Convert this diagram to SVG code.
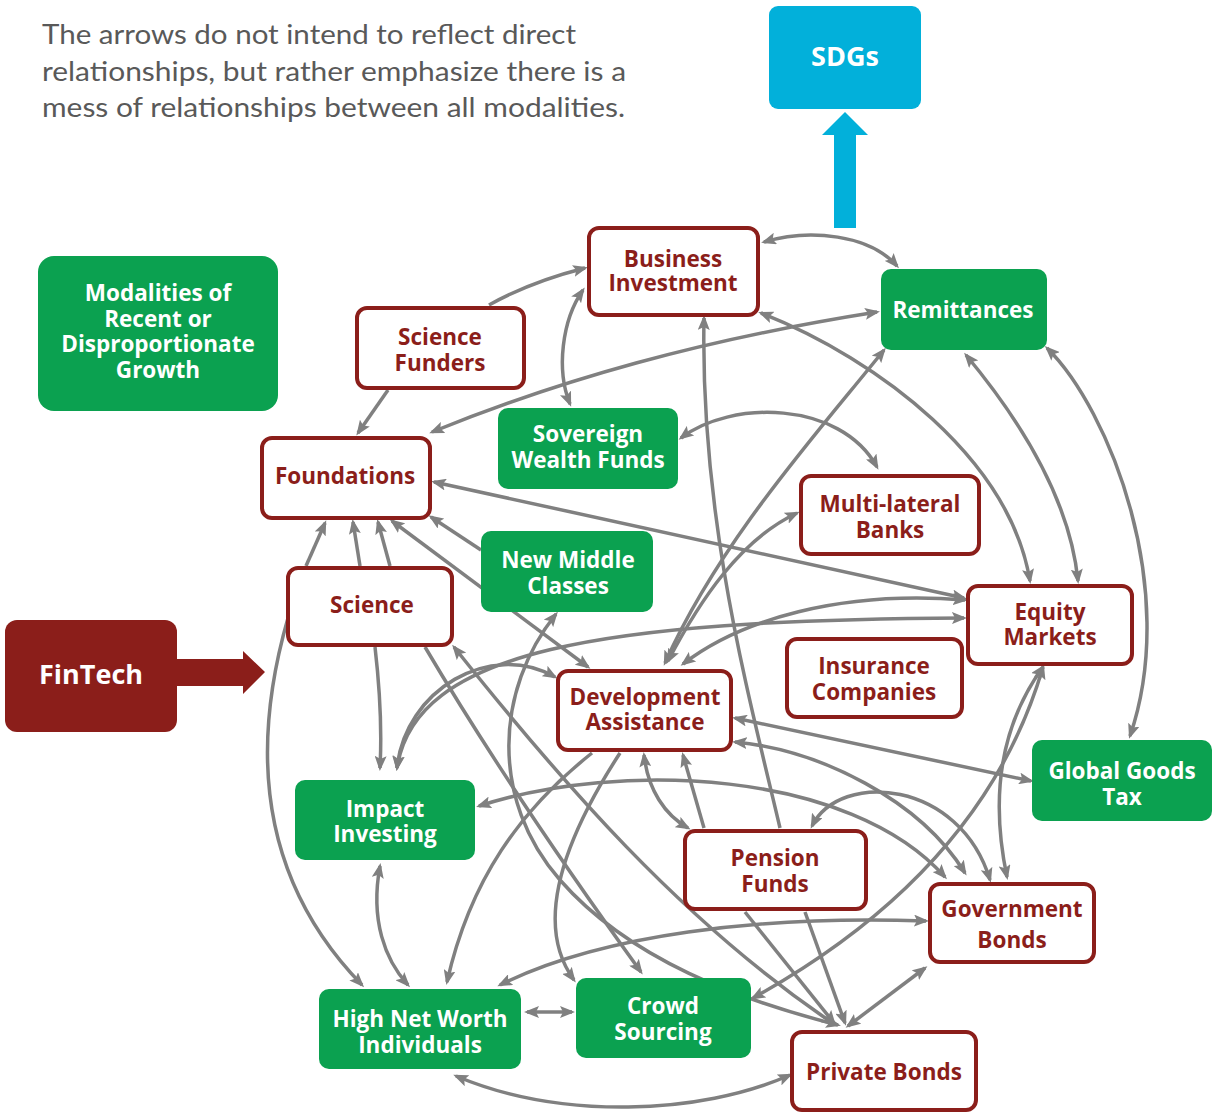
<svg xmlns="http://www.w3.org/2000/svg" width="1212" height="1117" viewBox="0 0 1212 1117">
<style>
.t{font-family:Lato,"Liberation Sans",sans-serif;font-size:26px;fill:#595959}
.rb{fill:#ffffff;stroke:#8B1E1A;stroke-width:4}
.gb{fill:#0BA150}
.rt{font-family:"Open Sans","Liberation Sans",sans-serif;font-weight:700;font-size:22.5px;fill:#8B1E1A;text-anchor:middle}
.gt{font-family:"Open Sans","Liberation Sans",sans-serif;font-weight:700;font-size:22.5px;fill:#ffffff;text-anchor:middle}
.c path{fill:none;stroke:#808080;stroke-width:3.5}
.e{marker-end:url(#ah)}
.b{marker-start:url(#ah);marker-end:url(#ah)}
</style>
<defs>
<marker id="ah" viewBox="0 0 15 12" refX="12" refY="6" markerWidth="15" markerHeight="12" markerUnits="userSpaceOnUse" orient="auto-start-reverse">
<path d="M0,0 L15,6 L0,12 L3,6 z" fill="#808080"/>
</marker>
</defs>
<rect width="1212" height="1117" fill="#ffffff"/>
<g id="note">
<text class="t" x="42" y="44" textLength="534" lengthAdjust="spacingAndGlyphs">The arrows do not intend to reflect direct</text>
<text class="t" x="42" y="81" textLength="584" lengthAdjust="spacingAndGlyphs">relationships, but rather emphasize there is a</text>
<text class="t" x="42" y="117" textLength="583" lengthAdjust="spacingAndGlyphs">mess of relationships between all modalities.</text>
</g>
<g id="connectors" class="c">
<path class="e" d="M489,305 Q530,282 585,268"/>
<path class="b" d="M583,290 C562,320 556,370 570,404"/>
<path class="b" d="M764,242 C810,228 870,235 897,266"/>
<path class="b" d="M877,312 C700,340 560,380 432,432"/>
<path class="e" d="M388,390 L358,433"/>
<path class="e" d="M780,828 C750,700 700,520 704,318"/>
<path class="b" d="M761,313 C880,360 1010,460 1030,581"/>
<path class="b" d="M966,355 C1020,420 1070,500 1078,581"/>
<path class="b" d="M1047,348 C1110,410 1180,590 1130,736"/>
<path class="b" d="M884,350 C820,430 720,540 665,663"/>
<path class="b" d="M797,513 C740,540 700,600 668,661"/>
<path class="b" d="M434,482 L964,598"/>
<path class="b" d="M681,438 C730,400 840,400 877,467"/>
<path class="e" d="M481,550 L431,517"/>
<path class="e" d="M306,566 L325,523"/>
<path class="e" d="M360,566 L353,522"/>
<path class="e" d="M390,566 L378,522"/>
<path class="b" d="M392,521 L588,667"/>
<path class="e" d="M375,647 C380,690 382,730 380,768"/>
<path class="e" d="M288,618 C250,750 260,880 362,985"/>
<path class="e" d="M425,647 C480,740 560,860 641,972"/>
<path class="b" d="M454,647 C560,780 680,920 834,1024"/>
<path class="b" d="M556,614 C495,690 490,800 560,880 C630,960 740,1000 838,1025"/>
<path class="e" d="M620,753 C570,830 530,920 574,980"/>
<path class="e" d="M592,753 C520,810 470,880 447,982"/>
<path class="b" d="M479,806 C620,760 850,770 945,877"/>
<path class="b" d="M735,742 C820,750 920,800 965,873"/>
<path class="b" d="M812,826 C840,770 960,780 990,880"/>
<path class="b" d="M1043,667 C990,740 995,820 1007,877"/>
<path class="b" d="M1043,667 C1010,780 930,900 753,998"/>
<path class="b" d="M735,718 L1031,781"/>
<path class="e" d="M704,828 L683,755"/>
<path class="b" d="M644,755 C648,790 665,815 688,828"/>
<path class="e" d="M745,912 L834,1023"/>
<path class="e" d="M805,912 L845,1023"/>
<path class="b" d="M848,1026 L925,968"/>
<path class="b" d="M500,985 C600,935 760,915 926,921"/>
<path class="b" d="M527,1012 L572,1012"/>
<path class="b" d="M456,1076 C560,1120 700,1115 790,1075"/>
<path class="b" d="M380,866 C370,920 385,960 408,985"/>
<path class="b" d="M397,768 C405,690 490,640 555,677"/>
<path class="b" d="M397,768 C415,650 600,620 964,618"/>
<path class="b" d="M683,664 C740,620 840,590 965,600"/>
</g>
<g id="sdgs">
<rect x="769" y="6" width="152" height="103" rx="9" fill="#02B0DA"/>
<text class="gt" x="845" y="66" style="font-size:27px">SDGs</text>
<polygon points="834,228 856,228 856,135 868,135 845,112 822,135 834,135" fill="#02B0DA"/>
</g>
<g id="modalities">
<rect x="38" y="256" width="240" height="155" rx="16" class="gb"/>
<text class="gt"><tspan x="158" y="301">Modalities of</tspan><tspan x="158" y="327">Recent or</tspan><tspan x="158" y="352">Disproportionate</tspan><tspan x="158" y="378">Growth</tspan></text>
</g>
<g id="fintech">
<rect x="5" y="620" width="172" height="112" rx="12" fill="#8B1E1A"/>
<text class="gt" x="91" y="684" style="font-size:27px">FinTech</text>
<polygon points="177,659 243,659 243,651 265,672 243,694 243,686 177,686" fill="#8B1E1A"/>
</g>
<g id="business-investment">
<rect class="rb" x="589" y="228" width="169" height="87" rx="10"/>
<text class="rt"><tspan x="673" y="267">Business</tspan><tspan x="673" y="291">Investment</tspan></text>
</g>
<g id="science-funders">
<rect class="rb" x="357" y="308" width="167" height="80" rx="10"/>
<text class="rt"><tspan x="440" y="345">Science</tspan><tspan x="440" y="371">Funders</tspan></text>
</g>
<g id="foundations">
<rect class="rb" x="262" y="438" width="168" height="80" rx="10"/>
<text class="rt" x="345" y="484">Foundations</text>
</g>
<g id="science">
<rect class="rb" x="288" y="568" width="164" height="77" rx="10"/>
<text class="rt" x="372" y="613">Science</text>
</g>
<g id="multilateral-banks">
<rect class="rb" x="801" y="476" width="178" height="78" rx="10"/>
<text class="rt"><tspan x="890" y="512">Multi-lateral</tspan><tspan x="890" y="538">Banks</tspan></text>
</g>
<g id="equity-markets">
<rect class="rb" x="968" y="586" width="164" height="78" rx="10"/>
<text class="rt"><tspan x="1050" y="620">Equity</tspan><tspan x="1050" y="645">Markets</tspan></text>
</g>
<g id="insurance-companies">
<rect class="rb" x="787" y="639" width="175" height="78" rx="10"/>
<text class="rt"><tspan x="874" y="674">Insurance</tspan><tspan x="874" y="700">Companies</tspan></text>
</g>
<g id="development-assistance">
<rect class="rb" x="558" y="671" width="173" height="79" rx="10"/>
<text class="rt"><tspan x="645" y="705">Development</tspan><tspan x="645" y="730">Assistance</tspan></text>
</g>
<g id="pension-funds">
<rect class="rb" x="685" y="831" width="181" height="78" rx="10"/>
<text class="rt"><tspan x="775" y="866">Pension</tspan><tspan x="775" y="892">Funds</tspan></text>
</g>
<g id="government-bonds">
<rect class="rb" x="930" y="884" width="164" height="78" rx="10"/>
<text class="rt"><tspan x="1012" y="917">Government</tspan><tspan x="1012" y="948">Bonds</tspan></text>
</g>
<g id="private-bonds">
<rect class="rb" x="792" y="1032" width="184" height="78" rx="10"/>
<text class="rt" x="884" y="1080">Private Bonds</text>
</g>
<g id="remittances">
<rect class="gb" x="881" y="269" width="166" height="81" rx="10"/>
<text class="gt" x="963" y="318">Remittances</text>
</g>
<g id="sovereign-wealth-funds">
<rect class="gb" x="498" y="408" width="180" height="81" rx="10"/>
<text class="gt"><tspan x="588" y="442">Sovereign</tspan><tspan x="588" y="468">Wealth Funds</tspan></text>
</g>
<g id="new-middle-classes">
<rect class="gb" x="481" y="531" width="172" height="81" rx="10"/>
<text class="gt"><tspan x="568" y="568">New Middle</tspan><tspan x="568" y="594">Classes</tspan></text>
</g>
<g id="impact-investing">
<rect class="gb" x="295" y="780" width="180" height="80" rx="10"/>
<text class="gt"><tspan x="385" y="817">Impact</tspan><tspan x="385" y="842">Investing</tspan></text>
</g>
<g id="global-goods-tax">
<rect class="gb" x="1032" y="740" width="180" height="81" rx="10"/>
<text class="gt"><tspan x="1122" y="779">Global Goods</tspan><tspan x="1122" y="805">Tax</tspan></text>
</g>
<g id="high-net-worth">
<rect class="gb" x="319" y="989" width="202" height="80" rx="10"/>
<text class="gt"><tspan x="420" y="1027">High Net Worth</tspan><tspan x="420" y="1053">Individuals</tspan></text>
</g>
<g id="crowd-sourcing">
<rect class="gb" x="576" y="978" width="175" height="80" rx="10"/>
<text class="gt"><tspan x="663" y="1014">Crowd</tspan><tspan x="663" y="1040">Sourcing</tspan></text>
</g>
</svg>
